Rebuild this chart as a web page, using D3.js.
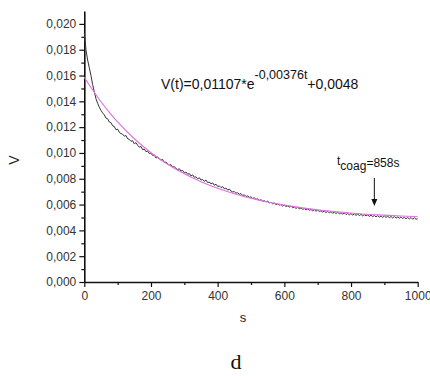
<!DOCTYPE html>
<html>
<head>
<meta charset="utf-8">
<script src="https://cdn.jsdelivr.net/npm/d3@7"></script>
<style>
  body { margin: 0; background: #fff; }
  svg { display: block; font-family: Arial, "Liberation Sans", sans-serif; }
  .axis path, .axis line { stroke: #111; }
  .axis path { stroke-width: 1.6; }
  .axis text { fill: #333; font-size: 12px; }
</style>
</head>
<body>
<svg id="chart" width="430" height="376"></svg>
<script>
// measured signal, sampled every 5 s from 0 to 1000 s
const sampleStep = 5;
const measured = [
  0.01930, 0.01800, 0.01720, 0.01660, 0.01600, 0.01530, 0.01475, 0.01420, 0.01385, 0.01355,
  0.01330, 0.01310, 0.01295, 0.01270, 0.01265, 0.01240, 0.01235, 0.01210, 0.01205, 0.01180,
  0.01185, 0.01160, 0.01150, 0.01145, 0.01130, 0.01135, 0.01110, 0.01105, 0.01090, 0.01095,
  0.01070, 0.01080, 0.01060, 0.01045, 0.01050, 0.01025, 0.01030, 0.01010, 0.01015, 0.00995,
  0.01000, 0.00980, 0.00985, 0.00960, 0.00970, 0.00955, 0.00945, 0.00950, 0.00925, 0.00930,
  0.00915, 0.00905, 0.00910, 0.00890, 0.00895, 0.00880, 0.00870, 0.00878, 0.00860, 0.00865,
  0.00845, 0.00852, 0.00835, 0.00840, 0.00822, 0.00830, 0.00812, 0.00815, 0.00800, 0.00808,
  0.00790, 0.00795, 0.00780, 0.00790, 0.00770, 0.00775, 0.00760, 0.00768, 0.00750, 0.00758,
  0.00740, 0.00745, 0.00732, 0.00738, 0.00722, 0.00728, 0.00712, 0.00720, 0.00705, 0.00698,
  0.00700, 0.00688, 0.00692, 0.00680, 0.00685, 0.00670, 0.00676, 0.00662, 0.00668, 0.00655,
  0.00660, 0.00648, 0.00652, 0.00640, 0.00645, 0.00632, 0.00638, 0.00626, 0.00630, 0.00620,
  0.00628, 0.00612, 0.00618, 0.00606, 0.00612, 0.00600, 0.00606, 0.00596, 0.00600, 0.00588,
  0.00596, 0.00585, 0.00590, 0.00580, 0.00588, 0.00575, 0.00582, 0.00570, 0.00578, 0.00568,
  0.00574, 0.00562, 0.00570, 0.00558, 0.00566, 0.00556, 0.00562, 0.00552, 0.00560, 0.00548,
  0.00558, 0.00546, 0.00552, 0.00542, 0.00550, 0.00538, 0.00548, 0.00536, 0.00545, 0.00532,
  0.00542, 0.00530, 0.00540, 0.00528, 0.00536, 0.00526, 0.00535, 0.00522, 0.00532, 0.00520,
  0.00530, 0.00518, 0.00528, 0.00516, 0.00526, 0.00515, 0.00524, 0.00512, 0.00522, 0.00512,
  0.00520, 0.00508, 0.00518, 0.00506, 0.00516, 0.00504, 0.00515, 0.00502, 0.00512, 0.00500,
  0.00512, 0.00500, 0.00510, 0.00498, 0.00508, 0.00496, 0.00508, 0.00495, 0.00505, 0.00494,
  0.00505, 0.00492, 0.00502, 0.00490, 0.00500, 0.00488, 0.00500, 0.00486, 0.00498, 0.00486,
  0.00490
];

// exponential fit
const fitTimes  = [0, 25, 50, 75, 100, 150, 200, 250, 300, 350, 400, 450, 500, 550, 600, 650, 700, 750, 800, 850, 900, 950, 1000];
const fitValues = [0.01587, 0.01488, 0.01397, 0.01315, 0.01240, 0.01110, 0.01002, 0.00912, 0.00838, 0.00777, 0.00726, 0.00684,
                   0.00649, 0.00620, 0.00596, 0.00576, 0.00560, 0.00546, 0.00535, 0.00525, 0.00518, 0.00511, 0.00506];

const xTicks = [0, 200, 400, 600, 800, 1000];
const yTicks = [0, 0.002, 0.004, 0.006, 0.008, 0.010, 0.012, 0.014, 0.016, 0.018, 0.020];
const tCoag = 858;

const svg = d3.select("#chart");
const x = d3.scaleLinear().domain([0, 1000]).range([84.3, 417.7]);
const y = d3.scaleLinear().domain([0, 0.021]).range([282, 11]);
const comma = d => d3.format(".3f")(d).replace(".", ",");

// minor ticks first so the major ones sit on top
svg.append("g")
  .attr("class", "axis")
  .attr("transform", `translate(0,${ y(0) })`)
  .call(d3.axisBottom(x).tickValues(d3.range(100, 1000, 200)).tickSize(3).tickFormat(""))
  .call(g => g.select(".domain").remove());
svg.append("g")
  .attr("class", "axis")
  .attr("transform", `translate(${ x(0) },0)`)
  .call(d3.axisLeft(y).tickValues(d3.range(0.001, 0.021, 0.002)).tickSize(3).tickFormat(""))
  .call(g => g.select(".domain").remove());

svg.append("g")
  .attr("class", "axis")
  .attr("transform", `translate(0,${ y(0) })`)
  .call(d3.axisBottom(x).tickValues(xTicks).tickFormat(d3.format("d")).tickSize(5).tickSizeOuter(0).tickPadding(4));
svg.append("g")
  .attr("class", "axis")
  .attr("transform", `translate(${ x(0) },0)`)
  .call(d3.axisLeft(y).tickValues(yTicks).tickFormat(comma).tickSize(5).tickSizeOuter(0).tickPadding(3));

svg.selectAll(".axis .tick line").attr("stroke-width", 1.2);

const fitLine = d3.line()
  .x((d, i) => x(fitTimes[i]))
  .y(d => y(d))
  .curve(d3.curveMonotoneX);
const dataLine = d3.line()
  .x((d, i) => x(i * sampleStep))
  .y(d => y(d));

svg.append("path")
  .attr("d", dataLine(measured))
  .attr("fill", "none")
  .attr("stroke", "#333")
  .attr("stroke-width", 1);
svg.append("path")
  .attr("d", fitLine(fitValues))
  .attr("fill", "none")
  .attr("stroke", "#e070e0")
  .attr("stroke-width", 1.1);

// equation
const eq = svg.append("text").attr("x", 161).attr("y", 89).attr("font-size", 14).attr("fill", "#111");
eq.append("tspan").text("V(t)=0,01107*e");
eq.append("tspan").attr("dy", -10).attr("font-size", 12.5).text("-0,00376t");
eq.append("tspan").attr("dy", 10).text("+0,0048");

// t_coag annotation
const ann = svg.append("text").attr("x", 337).attr("y", 165).attr("font-size", 12).attr("fill", "#111");
ann.append("tspan").text("t");
ann.append("tspan").attr("dy", 5).text("coag");
ann.append("tspan").attr("dy", -3).text("=858s");

const ax = x(tCoag) + 4;
svg.append("line")
  .attr("x1", ax).attr("x2", ax)
  .attr("y1", 178).attr("y2", 200)
  .attr("stroke", "#111").attr("stroke-width", 1);
svg.append("path")
  .attr("d", `M${ ax - 3},199 L${ ax + 3},199 L${ ax },206 Z`)
  .attr("fill", "#111");

// axis titles and caption
svg.append("text")
  .attr("transform", "translate(19,160) rotate(-90)")
  .attr("text-anchor", "middle")
  .attr("font-size", 14)
  .attr("fill", "#222")
  .text("V");
svg.append("text")
  .attr("x", 243).attr("y", 322)
  .attr("text-anchor", "middle")
  .attr("font-size", 13)
  .attr("fill", "#222")
  .text("s");
svg.append("text")
  .attr("x", 236).attr("y", 369)
  .attr("text-anchor", "middle")
  .attr("font-family", "'Liberation Serif', 'DejaVu Serif', serif")
  .attr("font-size", 22)
  .attr("fill", "#111")
  .text("d");
</script>
</body>
</html>
